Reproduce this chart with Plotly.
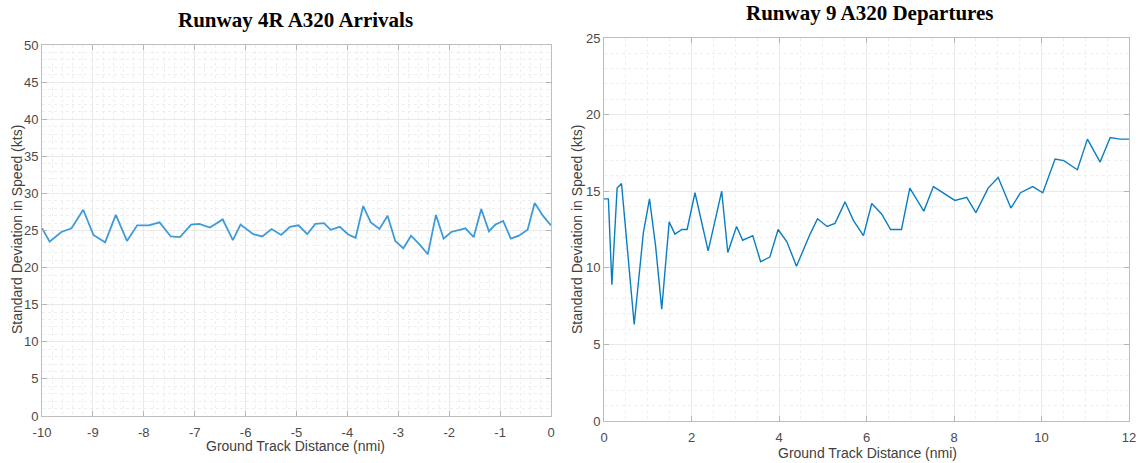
import plotly.graph_objects as go

# ---------------- data ----------------
arr_x = [-10.00, -9.85, -9.62, -9.42, -9.19, -8.99, -8.76, -8.55, -8.33, -8.13,
         -7.90, -7.69, -7.47, -7.29, -7.07, -6.91, -6.70, -6.45, -6.25, -6.10,
         -5.85, -5.67, -5.49, -5.30, -5.13, -4.96, -4.79, -4.63, -4.46, -4.33,
         -4.15, -3.99, -3.84, -3.69, -3.54, -3.37, -3.21, -3.06, -2.90, -2.75,
         -2.58, -2.42, -2.26, -2.11, -1.96, -1.82, -1.68, -1.52, -1.37, -1.22,
         -1.09, -0.94, -0.79, -0.63, -0.46, -0.32, -0.16, 0.00]
arr_sd = [25.3, 23.5, 24.8, 25.3, 27.8, 24.4, 23.4, 27.1, 23.6, 25.7,
          25.7, 26.1, 24.2, 24.1, 25.8, 25.9, 25.4, 26.5, 23.7, 25.8,
          24.5, 24.2, 25.2, 24.4, 25.5, 25.7, 24.5, 25.9, 26.0, 25.1,
          25.5, 24.5, 24.0, 28.3, 26.1, 25.2, 27.0, 23.6, 22.6, 24.3,
          23.1, 21.8, 27.1, 23.9, 24.8, 25.1, 25.3, 24.1, 27.9, 24.9,
          25.8, 26.3, 23.9, 24.3, 25.1, 28.7, 27.0, 25.7]

dep_x = [0.00, 0.10, 0.18, 0.30, 0.40, 0.69, 0.90, 1.04, 1.18, 1.32,
         1.49, 1.62, 1.78, 1.90, 2.08, 2.22, 2.38, 2.54, 2.69, 2.83,
         3.03, 3.17, 3.40, 3.58, 3.79, 3.98, 4.18, 4.40, 4.71, 4.88,
         5.10, 5.28, 5.51, 5.70, 5.93, 6.12, 6.35, 6.55, 6.80, 6.99,
         7.31, 7.53, 7.79, 8.02, 8.29, 8.50, 8.78, 9.01, 9.30, 9.52,
         9.80, 10.03, 10.31, 10.51, 10.82, 11.05, 11.34, 11.57, 11.79, 12.00]
dep_sd = [14.5, 14.5, 8.9, 15.2, 15.5, 6.3, 12.3, 14.5, 11.4, 7.3,
          13.0, 12.2, 12.5, 12.5, 14.9, 13.1, 11.1, 13.1, 15.0, 11.0,
          12.7, 11.8, 12.1, 10.4, 10.7, 12.5, 11.7, 10.1, 12.2, 13.2,
          12.7, 12.9, 14.3, 13.1, 12.1, 14.2, 13.5, 12.5, 12.5, 15.2,
          13.7, 15.3, 14.8, 14.4, 14.6, 13.6, 15.2, 15.9, 13.9, 14.9,
          15.3, 14.9, 17.1, 17.0, 16.4, 18.4, 16.9, 18.5, 18.4, 18.4]

arr_xticks = [-10, -9, -8, -7, -6, -5, -4, -3, -2, -1, 0]
arr_xticktext = ["-10", "-9", "-8", "-7", "-6", "-5", "-4", "-3", "-2", "-1", "0"]
arr_yticks = [0, 5, 10, 15, 20, 25, 30, 35, 40, 45, 50]
dep_xticks = [0, 2, 4, 6, 8, 10, 12]
dep_yticks = [0, 5, 10, 15, 20, 25]

title_left = "Runway 4R A320 Arrivals"
title_right = "Runway 9 A320 Departures"
ytitle = "Standard Deviation in Speed (kts)"
xtitle = "Ground Track Distance (nmi)"

# ---------------- figure ----------------
W, H = 1140, 463
SANS = "Liberation Sans, Arial, Helvetica, sans-serif"
SERIF = "Liberation Serif, Times New Roman, serif"
TICKFONT = dict(family=SANS, size=13, color="#4a4a4a")

def px_x(a, b):
    return [a / W, b / W]

def px_y(top, bottom):
    return [1 - bottom / H, 1 - top / H]

fig = go.Figure()
fig.add_trace(go.Scatter(x=arr_x, y=arr_sd, mode="lines",
                         line=dict(color="#3f9bd8", width=1.8),
                         xaxis="x", yaxis="y", showlegend=False))
fig.add_trace(go.Scatter(x=dep_x, y=dep_sd, mode="lines",
                         line=dict(color="#0b7dc2", width=1.4),
                         xaxis="x2", yaxis="y2", showlegend=False))

common = dict(showline=True, mirror="ticks", ticks="inside", ticklen=5,
              tickcolor="#b5b5b5", linecolor="#bdbdbd", linewidth=1,
              showgrid=True, gridcolor="#e9e9e9", gridwidth=1,
              zeroline=False, tickfont=TICKFONT, fixedrange=True,
              automargin=False)

fig.update_layout(
    width=W, height=H,
    margin=dict(l=0, r=0, t=0, b=0, autoexpand=False),
    paper_bgcolor="white", plot_bgcolor="white",
    xaxis=dict(domain=px_x(42, 551), range=[-10, 0], anchor="y",
               tickvals=arr_xticks, ticktext=arr_xticktext,
               ticklabelstandoff=4,
               minor=dict(dtick=0.2, showgrid=True, gridcolor="#eeeeee",
                          griddash="dot", ticks=""),
               **common),
    yaxis=dict(domain=px_y(45, 416), range=[0, 50], anchor="x",
               tickvals=arr_yticks,
               minor=dict(dtick=1, showgrid=True, gridcolor="#eeeeee",
                          griddash="dot", ticks=""),
               **common),
    xaxis2=dict(domain=px_x(604, 1129), range=[0, 12], anchor="y2",
                tickvals=dep_xticks, ticklabelstandoff=4,
                minor=dict(dtick=0.5, showgrid=True, gridcolor="#efefef",
                           griddash="dot", ticks=""),
                **common),
    yaxis2=dict(domain=px_y(38, 421), range=[0, 25], anchor="x2",
                tickvals=dep_yticks,
                minor=dict(dtick=1, showgrid=True, gridcolor="#efefef",
                           griddash="dot", ticks=""),
                **common),
)

ann = [
    dict(text="<b>" + title_left + "</b>", x=296 / W, y=1 - 20 / H,
         font=dict(family=SERIF, size=21, color="black")),
    dict(text="<b>" + title_right + "</b>", x=870 / W, y=1 - 13 / H,
         font=dict(family=SERIF, size=21, color="black")),
    dict(text=ytitle, x=17 / W, y=1 - 230 / H, textangle=-90,
         font=dict(family=SANS, size=14, color="#404040")),
    dict(text=ytitle, x=577 / W, y=1 - 230 / H, textangle=-90,
         font=dict(family=SANS, size=14, color="#404040")),
    dict(text=xtitle, x=296 / W, y=1 - 446 / H,
         font=dict(family=SANS, size=14, color="#404040")),
    dict(text=xtitle, x=867 / W, y=1 - 453 / H,
         font=dict(family=SANS, size=14, color="#404040")),
]
for a in ann:
    a.update(xref="paper", yref="paper", showarrow=False,
             xanchor="center", yanchor="middle")
fig.update_layout(annotations=ann)

fig.write_html("out.html")
